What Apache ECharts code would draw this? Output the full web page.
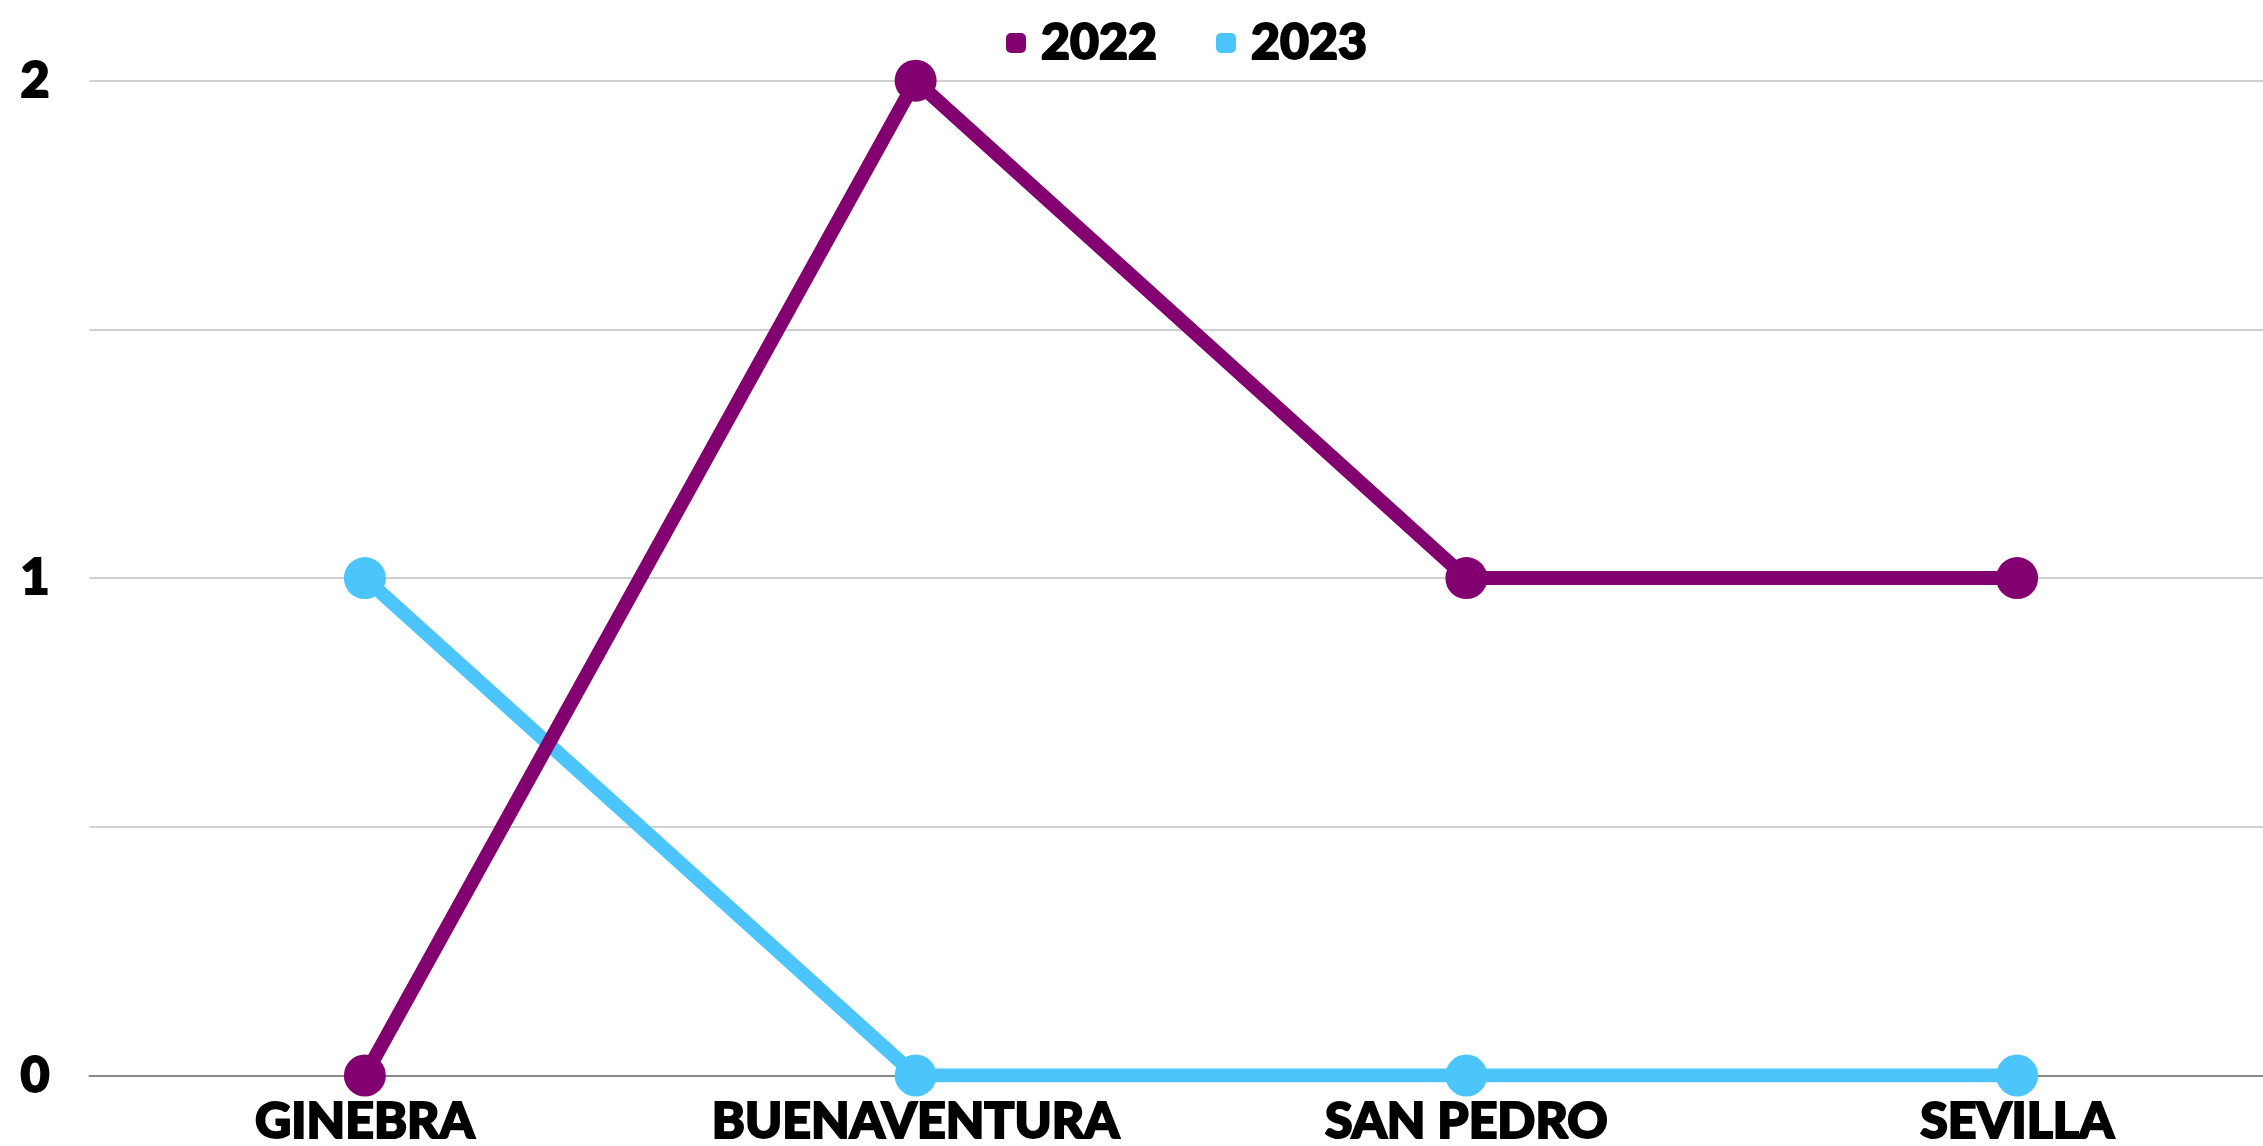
<!DOCTYPE html>
<html><head><meta charset="utf-8">
<script src="https://cdn.jsdelivr.net/npm/echarts@6/dist/echarts.min.js"></script>
<style>html,body{margin:0;padding:0;background:#fff;overflow:hidden;width:2263px;height:1146px}#c{width:2293px;height:1146px}</style>
</head><body><div id="c"></div>
<script>
const categories = ['GINEBRA', 'BUENAVENTURA', 'SAN PEDRO', 'SEVILLA'];
const series2022 = [0, 2, 1, 1];
const series2023 = [1, 0, 0, 0];
const seriesNames = ['2022', '2023'];
const colors = ['#820070', '#4BC5FC'];
const FONT = 'Lato';
const textBase = {fontFamily: FONT, fontWeight: 900, fontSize: 50, color: '#000',
  textBorderColor: '#000', textBorderWidth: 2};

const chart = echarts.init(document.getElementById('c'), null, {renderer: 'canvas'});
chart.setOption({
  animation: false,
  backgroundColor: '#ffffff',
  color: colors,
  legend: {
    data: seriesNames,
    left: 1001, top: 12,
    icon: 'roundRect',
    itemWidth: 20, itemHeight: 20,
    itemGap: 58,
    lineStyle: {opacity: 0},
    textStyle: Object.assign({}, textBase, {padding: [0, 0, 0, 10]})
  },
  grid: {left: 89.5, right: 0.5, top: 80.7, bottom: 1146 - 1075.5, containLabel: false,
         outerBoundsMode: 'none'},
  xAxis: {
    type: 'category', data: categories, boundaryGap: true,
    axisLine: {show: true, lineStyle: {color: '#888', width: 2}},
    axisTick: {show: false},
    axisLabel: Object.assign({}, textBase, {margin: 21})
  },
  yAxis: {
    type: 'value', min: 0, max: 2, interval: 0.5,
    axisLine: {show: false}, axisTick: {show: false},
    splitLine: {lineStyle: {color: '#d0d0d0', width: 2}},
    axisLabel: Object.assign({}, textBase, {margin: 40,
      formatter: v => (Number.isInteger(v) ? String(v) : '')})
  },
  series: [
    {name: seriesNames[0], type: 'line', data: series2022, symbol: 'circle', symbolSize: 42,
     lineStyle: {width: 14, color: colors[0]}, itemStyle: {color: colors[0]}, z: 3},
    {name: seriesNames[1], type: 'line', data: series2023, symbol: 'circle', symbolSize: 42,
     lineStyle: {width: 14, color: colors[1]}, itemStyle: {color: colors[1]}, z: 2}
  ]
});
</script></body></html>
